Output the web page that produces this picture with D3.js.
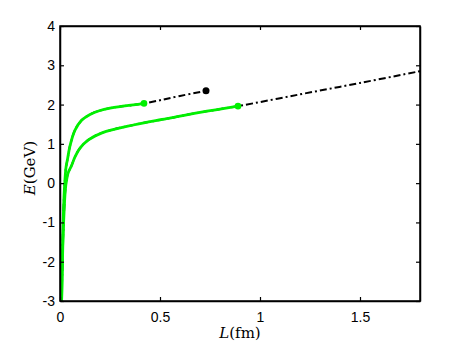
<!DOCTYPE html>
<html><head><meta charset="utf-8">
<script src="https://cdn.jsdelivr.net/npm/d3@7"></script>
<style>body{margin:0;background:#fff;} text{fill:#000;}</style>
</head><body>
<svg id="c" width="463" height="348"></svg>
<script>
// ---- data ----
const xTicks = [0, 0.5, 1, 1.5];
const yTicks = [-3, -2, -1, 0, 1, 2, 3, 4];
// upper branch (L in fm, E in GeV)
const upperL = [0.008, 0.010, 0.013, 0.016, 0.020, 0.025, 0.030, 0.038, 0.050, 0.075, 0.108, 0.15, 0.20, 0.25, 0.30, 0.367, 0.42, 0.50, 0.60, 0.73];
const upperE = [-3.0, -2.4, -1.6, -1.0, -0.35, 0.10, 0.40, 0.62, 0.95, 1.35, 1.60, 1.75, 1.85, 1.91, 1.95, 1.99, 2.03, 2.11, 2.22, 2.35];
const upperGreenEnd = 0.42;
// lower branch
const lowerL = [0.008, 0.011, 0.014, 0.018, 0.022, 0.027, 0.033, 0.040, 0.058, 0.075, 0.10, 0.142, 0.21, 0.367, 0.533, 0.70, 0.89, 1.2, 1.5, 1.8];
const lowerE = [-3.0, -2.3, -1.6, -1.0, -0.55, -0.15, 0.08, 0.25, 0.45, 0.67, 0.89, 1.10, 1.28, 1.48, 1.64, 1.80, 1.96, 2.26, 2.55, 2.85];
const lowerGreenEnd = 0.89;

(function () {
const svg = d3.select('#c');
const x = d3.scaleLinear().domain([0, 1.8]).range([60, 420]);
const y = d3.scaleLinear().domain([-3, 4]).range([301, 26]);

const toPts = (L, E) => L.map((v, i) => [v, E[i]]);
const line = d3.line().x(d => x(d[0])).y(d => y(d[1])).curve(d3.curveCatmullRom.alpha(0.5));
const green = '#00f000';

const up = toPts(upperL, upperE), lo = toPts(lowerL, lowerE);
// black dash-dot full curves
[up, lo].forEach(p => svg.append('path').attr('d', line(p)).attr('fill', 'none')
  .attr('stroke', '#000').attr('stroke-width', 2).attr('stroke-dasharray', '7,3,2,3'));
// green computed parts
[[up, upperGreenEnd], [lo, lowerGreenEnd]].forEach(([p, e]) =>
  svg.append('path').attr('d', line(p.filter(d => d[0] <= e))).attr('fill', 'none')
    .attr('stroke', green).attr('stroke-width', 2.8));
// markers
svg.append('circle').attr('cx', x(upperL[upperL.length - 1])).attr('cy', y(upperE[upperE.length - 1])).attr('r', 3.5).attr('fill', '#000');
[[up, upperGreenEnd], [lo, lowerGreenEnd]].forEach(([p, e]) => {
  const d = p.find(q => q[0] === e);
  svg.append('circle').attr('cx', x(d[0])).attr('cy', y(d[1])).attr('r', 3.3).attr('fill', green);
});

// axes (box with inward ticks)
const tl = 4;
const fmt = d => String(d);
const ax = svg.append('g');
const axB = d3.axisBottom(x).tickValues(xTicks).tickSizeInner(-tl).tickSizeOuter(0).tickPadding(11).tickFormat(fmt);
const axT = d3.axisTop(x).tickValues(xTicks).tickSizeInner(-tl).tickSizeOuter(0).tickFormat('');
const axL = d3.axisLeft(y).tickValues(yTicks).tickSizeInner(-tl).tickSizeOuter(0).tickPadding(5).tickFormat(fmt);
const axR = d3.axisRight(y).tickValues(yTicks).tickSizeInner(-tl).tickSizeOuter(0).tickFormat('');
const gb = ax.append('g').attr('transform', 'translate(0,301)').call(axB);
const gt = ax.append('g').attr('transform', 'translate(0,26)').call(axT);
const gl = ax.append('g').attr('transform', 'translate(60,0)').call(axL);
const gr = ax.append('g').attr('transform', 'translate(420,0)').call(axR);
[gb, gt, gl, gr].forEach(g => {
  g.select('.domain').attr('stroke', '#000').attr('stroke-width', 1.5);
  g.selectAll('.tick line').attr('stroke', '#000').attr('stroke-width', 1.2);
  g.selectAll('text').attr('fill', '#000').attr('font-family', 'Liberation Sans, Arial, sans-serif').attr('font-size', 14);
});
svg.append('rect').attr('x', 60).attr('y', 26).attr('width', 360).attr('height', 275)
  .attr('fill', 'none').attr('stroke', '#000').attr('stroke-width', 1.5);

// axis labels
const xl = svg.append('text').attr('x', 240).attr('y', 338).attr('text-anchor', 'middle')
  .attr('font-family', 'DejaVu Serif, Liberation Serif, serif').attr('font-size', 15);
xl.append('tspan').attr('font-style', 'italic').text('L');
xl.append('tspan').text('(fm)');
const yl = svg.append('text').attr('transform', 'translate(35,168) rotate(-90)').attr('text-anchor', 'middle')
  .attr('font-family', 'DejaVu Serif, Liberation Serif, serif').attr('font-size', 15);
yl.append('tspan').attr('font-style', 'italic').text('E');
yl.append('tspan').text('(GeV)');
})();
</script>
</body></html>
